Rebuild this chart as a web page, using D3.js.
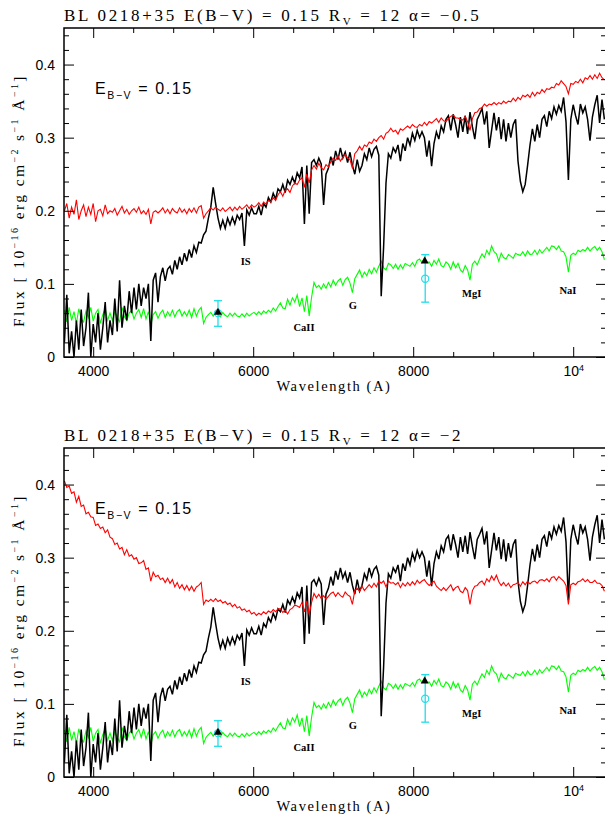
<!DOCTYPE html>
<html lang="en">
<head>
<meta charset="UTF-8">
<title>BL 0218+35 spectral decomposition</title>
<script src="https://d3js.org/d3.v7.min.js"></script>
<style>
  body { margin: 0; background: #fff; }
  svg { display: block; }
  .tick text { font-family: "Liberation Sans", sans-serif; font-size: 14px; fill: #000; }
  .tick line { stroke: #000; stroke-width: 1; }
  .title { font-family: "Liberation Serif", serif; font-size: 17px; letter-spacing: 2.7px; }
  .xlabel { font-family: "Liberation Serif", serif; font-size: 14.5px; letter-spacing: 1.6px; }
  .ylabel { font-family: "Liberation Serif", serif; font-size: 15.5px; letter-spacing: 2.4px; }
  .ebv { font-family: "Liberation Sans", sans-serif; font-size: 16px; letter-spacing: 1.6px; }
  .line-id { font-family: "Liberation Serif", serif; font-size: 10.5px; font-weight: bold; }
</style>
</head>
<body>
<svg id="chart" width="605" height="821"></svg>
<script>
/* ---------- spectrum sampling (first pixel, dispersion in A) ---------- */
const waveStart = 3640;
const waveStep = 30;

// observed spectrum (black)
const fluxObserved = [
  0.020, 0.085, 0.005, 0.035, 0.000, 0.050, 0.010, 0.065, 0.015, 0.040,
  0.088, 0.000, 0.045, 0.020, 0.060, 0.010, 0.040, 0.075, 0.020, 0.050,
  0.030, 0.080, 0.035, 0.105, 0.040, 0.070, 0.050, 0.090, 0.060, 0.095,
  0.065, 0.100, 0.070, 0.095, 0.080, 0.100, 0.022, 0.105, 0.115, 0.075,
  0.110, 0.122, 0.104, 0.120, 0.124, 0.113, 0.132, 0.120, 0.137, 0.126,
  0.142, 0.131, 0.147, 0.136, 0.152, 0.143, 0.157, 0.156, 0.167, 0.172,
  0.190, 0.205, 0.232, 0.210, 0.190, 0.176, 0.187, 0.176, 0.190, 0.181,
  0.191, 0.182, 0.194, 0.188, 0.197, 0.152, 0.201, 0.194, 0.204, 0.196,
  0.196, 0.206, 0.194, 0.210, 0.205, 0.218, 0.212, 0.224, 0.216, 0.230,
  0.226, 0.236, 0.225, 0.242, 0.236, 0.246, 0.238, 0.252, 0.245, 0.260,
  0.182, 0.262, 0.196, 0.266, 0.270, 0.262, 0.272, 0.264, 0.208, 0.250,
  0.258, 0.274, 0.262, 0.282, 0.270, 0.286, 0.272, 0.280, 0.266, 0.280,
  0.262, 0.250, 0.270, 0.254, 0.262, 0.278, 0.270, 0.286, 0.274, 0.284,
  0.288, 0.276, 0.083, 0.150, 0.238, 0.278, 0.272, 0.286, 0.280, 0.290,
  0.268, 0.292, 0.282, 0.300, 0.290, 0.306, 0.296, 0.310, 0.300, 0.308,
  0.300, 0.274, 0.296, 0.261, 0.292, 0.308, 0.298, 0.316, 0.308, 0.325,
  0.330, 0.310, 0.332, 0.318, 0.300, 0.328, 0.308, 0.330, 0.305, 0.335,
  0.315, 0.298, 0.325, 0.332, 0.340, 0.318, 0.336, 0.286, 0.310, 0.334,
  0.310, 0.328, 0.298, 0.325, 0.295, 0.320, 0.300, 0.318, 0.325, 0.268,
  0.240, 0.226, 0.236, 0.262, 0.290, 0.312, 0.295, 0.318, 0.300, 0.325,
  0.330, 0.315, 0.336, 0.326, 0.342, 0.332, 0.344, 0.336, 0.355, 0.322,
  0.242, 0.325, 0.345, 0.330, 0.318, 0.346, 0.334, 0.342, 0.325, 0.296,
  0.328, 0.345, 0.358, 0.320, 0.352, 0.325
];

// host galaxy template (green)
const fluxHost = [
  0.064, 0.048, 0.068, 0.050, 0.062, 0.046, 0.066, 0.052, 0.048, 0.063,
  0.054, 0.068, 0.049, 0.060, 0.065, 0.046, 0.058, 0.066, 0.050, 0.060,
  0.050, 0.063, 0.054, 0.048, 0.068, 0.055, 0.050, 0.060, 0.064, 0.052,
  0.060, 0.065, 0.054, 0.066, 0.052, 0.062, 0.044, 0.058, 0.062, 0.053,
  0.060, 0.064, 0.054, 0.062, 0.056, 0.064, 0.055, 0.062, 0.065, 0.056,
  0.062, 0.056, 0.064, 0.054, 0.066, 0.056, 0.064, 0.068, 0.046, 0.054,
  0.058, 0.061, 0.056, 0.062, 0.058, 0.055, 0.061, 0.057, 0.055, 0.060,
  0.056, 0.060, 0.056, 0.055, 0.059, 0.055, 0.060, 0.056, 0.059, 0.061,
  0.058, 0.062, 0.058, 0.063, 0.060, 0.064, 0.061, 0.067, 0.063, 0.069,
  0.074, 0.067, 0.066, 0.079, 0.071, 0.081, 0.075, 0.085, 0.069, 0.081,
  0.062, 0.084, 0.056, 0.082, 0.102, 0.095, 0.098, 0.093, 0.100, 0.094,
  0.102, 0.096, 0.105, 0.098, 0.104, 0.107, 0.098, 0.106, 0.109, 0.101,
  0.088, 0.107, 0.113, 0.119, 0.109, 0.116, 0.111, 0.120, 0.114, 0.122,
  0.116, 0.124, 0.131, 0.122, 0.119, 0.128, 0.126, 0.121, 0.127, 0.120,
  0.126, 0.121, 0.128, 0.126, 0.124, 0.129, 0.124, 0.132, 0.134, 0.129,
  0.136, 0.129, 0.130, 0.124, 0.132, 0.127, 0.134, 0.125, 0.123, 0.130,
  0.127, 0.120, 0.130, 0.122, 0.128, 0.119, 0.116, 0.125, 0.119, 0.105,
  0.127, 0.131, 0.126, 0.134, 0.141, 0.136, 0.146, 0.140, 0.152, 0.144,
  0.141, 0.131, 0.142, 0.136, 0.134, 0.140, 0.138, 0.135, 0.142, 0.140,
  0.139, 0.144, 0.138, 0.145, 0.140, 0.141, 0.146, 0.140, 0.147, 0.142,
  0.146, 0.150, 0.145, 0.152, 0.151, 0.147, 0.152, 0.145, 0.144, 0.137,
  0.116, 0.139, 0.142, 0.140, 0.146, 0.144, 0.147, 0.145, 0.150, 0.145,
  0.149, 0.151, 0.146, 0.150, 0.144, 0.133
];

// host + power law, alpha = -0.5 (red, upper panel)
const fluxModelA = [
  0.200, 0.210, 0.190, 0.205, 0.195, 0.215, 0.188, 0.200, 0.208, 0.192,
  0.205, 0.195, 0.210, 0.185, 0.200, 0.202, 0.193, 0.208, 0.196, 0.200,
  0.198, 0.203, 0.194, 0.200, 0.206, 0.197, 0.202, 0.195, 0.200, 0.203,
  0.198, 0.205, 0.196, 0.200, 0.195, 0.202, 0.182, 0.198, 0.200, 0.197,
  0.200, 0.204, 0.197, 0.202, 0.196, 0.203, 0.199, 0.197, 0.204, 0.198,
  0.202, 0.196, 0.203, 0.198, 0.204, 0.197, 0.205, 0.207, 0.190, 0.196,
  0.200, 0.204, 0.201, 0.205, 0.202, 0.200, 0.204, 0.199, 0.202, 0.205,
  0.200, 0.205, 0.201, 0.206, 0.202, 0.205, 0.208, 0.203, 0.208, 0.205,
  0.207, 0.211, 0.206, 0.212, 0.209, 0.214, 0.212, 0.218, 0.214, 0.222,
  0.226, 0.220, 0.228, 0.230, 0.225, 0.234, 0.238, 0.236, 0.242, 0.245,
  0.232, 0.250, 0.238, 0.256, 0.262, 0.257, 0.265, 0.259, 0.256, 0.263,
  0.260, 0.267, 0.272, 0.269, 0.275, 0.268, 0.273, 0.277, 0.272, 0.270,
  0.258, 0.278, 0.282, 0.288, 0.283, 0.290, 0.288, 0.294, 0.292, 0.298,
  0.295, 0.300, 0.303, 0.298, 0.306, 0.308, 0.313, 0.308, 0.310, 0.305,
  0.312, 0.310, 0.313, 0.316, 0.313, 0.318, 0.315, 0.314, 0.318, 0.316,
  0.321, 0.317, 0.322, 0.320, 0.323, 0.326, 0.321, 0.327, 0.323, 0.322,
  0.326, 0.329, 0.331, 0.327, 0.327, 0.325, 0.324, 0.329, 0.322, 0.310,
  0.326, 0.334, 0.335, 0.340, 0.341, 0.346, 0.343, 0.346, 0.345, 0.348,
  0.345, 0.348, 0.346, 0.350, 0.347, 0.350, 0.349, 0.354, 0.350, 0.355,
  0.352, 0.358, 0.356, 0.359, 0.355, 0.362, 0.357, 0.362, 0.360, 0.366,
  0.362, 0.367, 0.366, 0.369, 0.368, 0.374, 0.372, 0.378, 0.374, 0.370,
  0.360, 0.374, 0.373, 0.377, 0.375, 0.380, 0.375, 0.382, 0.380, 0.385,
  0.380, 0.386, 0.381, 0.388, 0.382, 0.379
];

// host + power law, alpha = -2 (red, lower panel)
const fluxModelB = [
  0.405, 0.396, 0.398, 0.388, 0.390, 0.376, 0.384, 0.370, 0.372, 0.360,
  0.362, 0.356, 0.355, 0.344, 0.346, 0.340, 0.342, 0.334, 0.338, 0.328,
  0.326, 0.318, 0.320, 0.312, 0.314, 0.304, 0.311, 0.302, 0.304, 0.298,
  0.300, 0.292, 0.293, 0.296, 0.284, 0.286, 0.268, 0.280, 0.274, 0.276,
  0.270, 0.272, 0.266, 0.272, 0.265, 0.270, 0.260, 0.266, 0.258, 0.263,
  0.256, 0.262, 0.255, 0.261, 0.254, 0.260, 0.262, 0.266, 0.236, 0.242,
  0.240, 0.243, 0.240, 0.244, 0.240, 0.242, 0.238, 0.240, 0.236, 0.238,
  0.233, 0.236, 0.231, 0.233, 0.228, 0.230, 0.226, 0.228, 0.223, 0.225,
  0.221, 0.224, 0.222, 0.226, 0.223, 0.227, 0.225, 0.229, 0.226, 0.230,
  0.230, 0.225, 0.228, 0.223, 0.229, 0.231, 0.235, 0.234, 0.232, 0.239,
  0.226, 0.241, 0.222, 0.239, 0.251, 0.245, 0.250, 0.244, 0.248, 0.243,
  0.247, 0.251, 0.253, 0.247, 0.252, 0.248, 0.246, 0.253, 0.249, 0.247,
  0.236, 0.255, 0.258, 0.254, 0.261, 0.255, 0.259, 0.263, 0.259, 0.265,
  0.260, 0.268, 0.265, 0.268, 0.260, 0.268, 0.265, 0.266, 0.263, 0.266,
  0.259, 0.265, 0.261, 0.266, 0.262, 0.267, 0.263, 0.269, 0.265, 0.268,
  0.270, 0.265, 0.262, 0.265, 0.268, 0.261, 0.258, 0.255, 0.259, 0.255,
  0.259, 0.263, 0.255, 0.259, 0.261, 0.254, 0.252, 0.259, 0.255, 0.236,
  0.255, 0.261, 0.262, 0.266, 0.268, 0.263, 0.271, 0.267, 0.275, 0.269,
  0.276, 0.267, 0.262, 0.266, 0.261, 0.265, 0.259, 0.263, 0.264, 0.266,
  0.261, 0.267, 0.263, 0.268, 0.264, 0.267, 0.268, 0.265, 0.269, 0.270,
  0.268, 0.271, 0.267, 0.273, 0.274, 0.269, 0.274, 0.271, 0.268, 0.262,
  0.236, 0.263, 0.265, 0.263, 0.267, 0.268, 0.271, 0.267, 0.270, 0.266,
  0.266, 0.269, 0.265, 0.265, 0.262, 0.254
];

// photometry with error bars (cyan) and host points (black triangles)
const photWave = [5560, 8150];
const photFlux = [0.060, 0.107];
const photLow = [0.042, 0.075];
const photHigh = [0.077, 0.140];
const hostPhotWave = [5560, 8145];
const hostPhotFlux = [0.061, 0.131];

// absorption line ids
const lineNames = ['IS', 'CaII', 'G', 'MgI', 'NaI'];
const lineWave = [5906, 6635, 7247, 8731, 9935];
const lineFlux = [0.126, 0.035, 0.066, 0.082, 0.086];

// axes
const xTicks = [4000, 6000, 8000, 10000];
const xTickLabels = ['4000', '6000', '8000', '10'];
const yTicks = [0, 0.1, 0.2, 0.3, 0.4];
const yTickLabels = ['0', '0.1', '0.2', '0.3', '0.4'];

const objectName = 'BL 0218+35';
const ebv = '0.15';
const rv = '12';
const alphas = ['\u22120.5', '\u22122'];
const models = [fluxModelA, fluxModelB];

/* ---------- layout ---------- */
const svg = d3.select('#chart');
const panelTop = [28, 448];
const panelH = 329;
const left = 64, right = 606;

const x = d3.scaleLinear().domain([3635, 10410]).range([left, right]);
const y = d3.scaleLinear().domain([0, 0.45]).range([panelH, 0]);
const waveOf = i => waveStart + i * waveStep;

const line = d3.line()
    .x((d, i) => x(waveOf(i)))
    .y(d => y(d));

svg.append('defs').append('clipPath').attr('id', 'plot-clip')
   .append('rect').attr('x', left).attr('y', 0)
   .attr('width', right - left).attr('height', panelH);

panelTop.forEach((top, p) => drawPanel(top, p));

function drawPanel(top, p) {
    const g = svg.append('g').attr('transform', `translate(0,${top})`);

    /* spectra */
    const plot = g.append('g').attr('clip-path', 'url(#plot-clip)');
    plot.append('path').datum(fluxHost).attr('d', line)
        .attr('fill', 'none').attr('stroke', '#00ff00').attr('stroke-width', 1.1);
    plot.append('path').datum(fluxObserved).attr('d', line)
        .attr('fill', 'none').attr('stroke', '#000').attr('stroke-width', 1.5);
    plot.append('path').datum(models[p]).attr('d', line)
        .attr('fill', 'none').attr('stroke', '#ff0000').attr('stroke-width', 1.1);

    /* photometric points */
    const cyan = '#22dde8';
    photWave.forEach((w, i) => {
        const cx = x(w);
        g.append('line').attr('x1', cx).attr('x2', cx)
         .attr('y1', y(photLow[i])).attr('y2', y(photHigh[i]))
         .attr('stroke', cyan).attr('stroke-width', 1.3);
        [photLow[i], photHigh[i]].forEach(v => {
            g.append('line').attr('x1', cx - 4).attr('x2', cx + 4)
             .attr('y1', y(v)).attr('y2', y(v))
             .attr('stroke', cyan).attr('stroke-width', 1.3);
        });
        g.append('circle').attr('cx', cx).attr('cy', y(photFlux[i])).attr('r', 3.6)
         .attr('fill', 'none').attr('stroke', cyan).attr('stroke-width', 1.2);
    });
    g.selectAll('.host-pt').data(hostPhotWave).join('path')
     .attr('class', 'host-pt')
     .attr('transform', (d, i) => `translate(${x(d)},${y(hostPhotFlux[i])})`)
     .attr('d', d3.symbol(d3.symbolTriangle, 28))
     .attr('fill', '#000');

    /* line identifications */
    g.selectAll('.line-id').data(lineNames).join('text')
     .attr('class', 'line-id')
     .attr('x', (d, i) => x(lineWave[i]))
     .attr('y', (d, i) => y(lineFlux[i]))
     .attr('text-anchor', 'middle')
     .text(d => d);

    /* axes */
    const xMinor = d3.range(4000, 10500, 500).filter(v => xTicks.indexOf(v) < 0);
    const yMinor = d3.range(0, 0.451, 0.02).filter(v => Math.abs(v * 10 - Math.round(v * 10)) > 1e-6);

    const bottom = g.append('g').attr('transform', `translate(0,${panelH})`)
        .call(d3.axisBottom(x).tickValues(xTicks).tickSizeInner(-10).tickSizeOuter(0)
              .tickPadding(9).tickFormat((d, i) => xTickLabels[i]));
    bottom.selectAll('.tick text').filter(d => d === 10000)
        .append('tspan').attr('dy', '-0.5em').attr('font-size', '9px').text('4');
    g.append('g').attr('transform', `translate(0,${panelH})`)
        .call(d3.axisBottom(x).tickValues(xMinor).tickSizeInner(-5).tickSizeOuter(0).tickFormat(''));
    g.append('g')
        .call(d3.axisTop(x).tickValues(xTicks).tickSizeInner(-10).tickSizeOuter(0).tickFormat(''));
    g.append('g')
        .call(d3.axisTop(x).tickValues(xMinor).tickSizeInner(-5).tickSizeOuter(0).tickFormat(''));

    g.append('g').attr('transform', `translate(${left},0)`)
        .call(d3.axisLeft(y).tickValues(yTicks).tickSizeInner(-10).tickSizeOuter(0)
              .tickPadding(9).tickFormat((d, i) => yTickLabels[i]));
    g.append('g').attr('transform', `translate(${left},0)`)
        .call(d3.axisLeft(y).tickValues(yMinor).tickSizeInner(-5).tickSizeOuter(0).tickFormat(''));
    g.append('g').attr('transform', `translate(${right},0)`)
        .call(d3.axisRight(y).tickValues(yTicks).tickSizeInner(-10).tickSizeOuter(0).tickFormat(''));
    g.append('g').attr('transform', `translate(${right},0)`)
        .call(d3.axisRight(y).tickValues(yMinor).tickSizeInner(-5).tickSizeOuter(0).tickFormat(''));
    g.selectAll('.domain').remove();

    g.append('rect').attr('x', left).attr('y', 0)
     .attr('width', right - left).attr('height', panelH)
     .attr('fill', 'none').attr('stroke', '#000').attr('stroke-width', 1.5);

    /* texts */
    const title = g.append('text').attr('class', 'title').attr('x', left).attr('y', -7);
    title.append('tspan').text(`${objectName} E(B\u2212V) = ${ebv} R`);
    title.append('tspan').attr('dy', 4).attr('font-size', '11px').text('V');
    title.append('tspan').attr('dy', -4).text(` = ${rv} \u03b1= ${alphas[p]}`);

    g.append('text').attr('class', 'xlabel')
     .attr('x', 334).attr('y', panelH + 34).attr('text-anchor', 'middle')
     .text('Wavelength (A)');

    const yl = g.append('text').attr('class', 'ylabel')
        .attr('transform', `translate(24,${panelH / 2 + 8}) rotate(-90)`)
        .attr('text-anchor', 'middle');
    yl.append('tspan').text('Flux [ 10');
    yl.append('tspan').attr('dy', -6).attr('font-size', '10px').text('\u221216');
    yl.append('tspan').attr('dy', 6).text(' erg cm');
    yl.append('tspan').attr('dy', -6).attr('font-size', '10px').text('\u22122');
    yl.append('tspan').attr('dy', 6).text(' s');
    yl.append('tspan').attr('dy', -6).attr('font-size', '10px').text('\u22121');
    yl.append('tspan').attr('dy', 6).text(' \u00c5');
    yl.append('tspan').attr('dy', -6).attr('font-size', '10px').text('\u22121');
    yl.append('tspan').attr('dy', 6).text(']');

    const eb = g.append('text').attr('class', 'ebv').attr('x', 95).attr('y', 66);
    eb.append('tspan').text('E');
    eb.append('tspan').attr('dy', 5).attr('font-size', '10.5px').text('B\u2212V');
    eb.append('tspan').attr('dy', -5).text(` = ${ebv}`);
}
</script>
</body>
</html>
